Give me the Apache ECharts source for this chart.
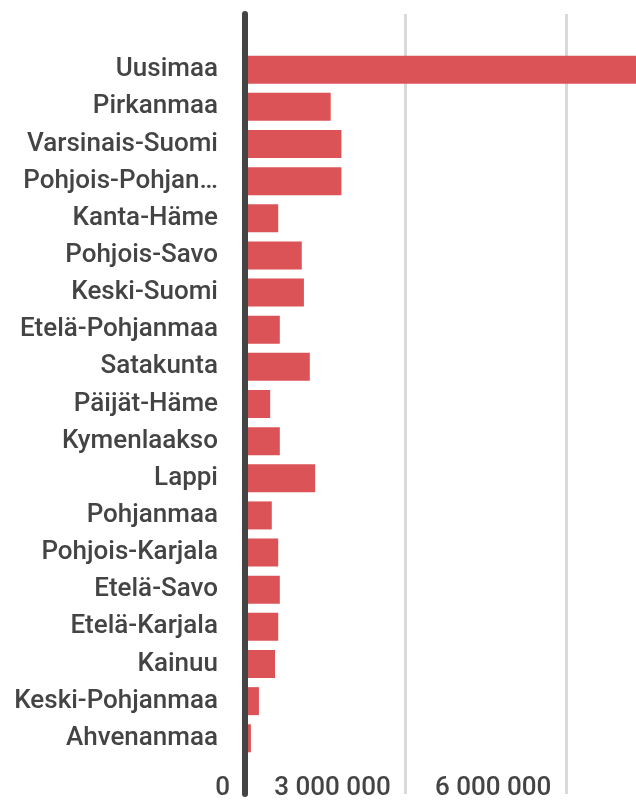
<!DOCTYPE html>
<html>
<head>
<meta charset="utf-8">
<script src="https://cdn.jsdelivr.net/npm/echarts@6/dist/echarts.min.js"></script>
<style>
  html, body { margin: 0; padding: 0; background: #fff; }
  #chart { width: 636px; height: 801px; }
</style>
</head>
<body>
<div id="chart"></div>
<script>
// maakunnat ylhäältä alas
var regions = [
  'Uusimaa', 'Pirkanmaa', 'Varsinais-Suomi', 'Pohjois-Pohjanmaa', 'Kanta-Häme',
  'Pohjois-Savo', 'Keski-Suomi', 'Etelä-Pohjanmaa', 'Satakunta', 'Päijät-Häme',
  'Kymenlaakso', 'Lappi', 'Pohjanmaa', 'Pohjois-Karjala', 'Etelä-Savo',
  'Etelä-Karjala', 'Kainuu', 'Keski-Pohjanmaa', 'Ahvenanmaa'
];
var values = [
  8000000, 1600000, 1800000, 1800000, 620000,
  1060000, 1100000, 650000, 1210000, 470000,
  650000, 1310000, 500000, 620000, 650000,
  620000, 560000, 260000, 110000
];
var xTicks = [0, 3000000, 6000000];
var xMax = 7300000; // kuva rajautuu tähän

// tyhjä rivi ylä- ja alapuolelle
var cats = [''].concat(regions, ['']);
var vals = ['-'].concat(values, ['-']);

var chart = echarts.init(document.getElementById('chart'));
var option = {
  animation: false,
  grid: {
    left: 245,
    right: 0,
    top: 14,
    bottom: 2,
    containLabel: false
  },
  xAxis: {
    type: 'value',
    min: xTicks[0],
    max: xMax,
    interval: xTicks[1] - xTicks[0],
    axisLine: { show: false },
    axisTick: { show: false },
    splitLine: {
      show: true,
      showMaxLine: false,
      lineStyle: { color: '#d9d9d9', width: 3 }
    },
    axisLabel: {
      margin: -19,
      showMaxLabel: false,
      color: '#444',
      fontFamily: 'Roboto',
      fontWeight: 500,
      fontSize: 26,
      align: 'right',
      padding: [0, 15, 0, 0],
      formatter: function(val) {
        return String(val).replace(/\B(?=(\d{3})+(?!\d))/g, ' ');
      }
    }
  },
  yAxis: {
    type: 'category',
    data: cats,
    inverse: true,
    z: 5,
    axisLine: {
      show: true,
      lineStyle: { color: '#444', width: 6 }
    },
    axisTick: { show: false },
    splitLine: { show: false },
    axisLabel: {
      margin: 27,
      color: '#444',
      fontFamily: 'Roboto',
      fontWeight: 500,
      fontSize: 26,
      width: 212,
      overflow: 'truncate',
      ellipsis: '…'
    }
  },
  series: [
    {
      type: 'bar',
      data: vals,
      barWidth: 28,
      itemStyle: { color: '#dc5357' }
    }
  ]
};
chart.setOption(option);
</script>
</body>
</html>
